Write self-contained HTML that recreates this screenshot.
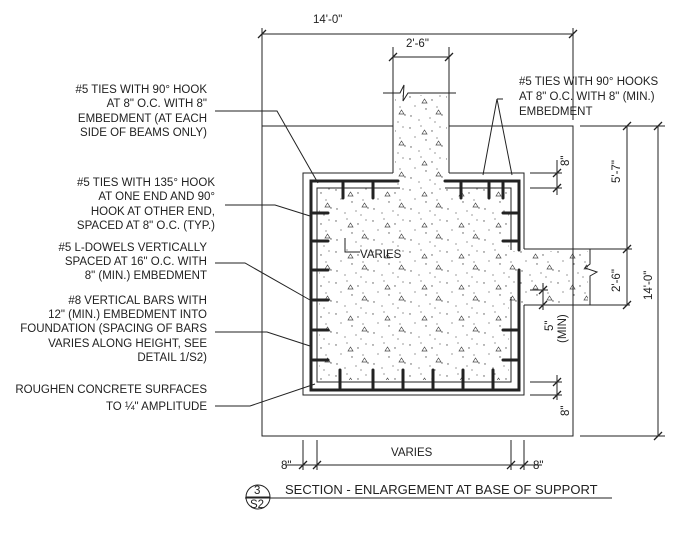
<!DOCTYPE html>
<html><head><meta charset="utf-8"><style>
html,body{margin:0;padding:0;background:#fff;}
svg{display:block;}
text{font-family:"Liberation Sans Narrow","Liberation Sans",sans-serif;font-size:11.5px;fill:#222;}
</style></head><body>
<svg width="682" height="548" viewBox="0 0 682 548" xmlns="http://www.w3.org/2000/svg">
<defs>
<pattern id="conc" width="37" height="31" patternUnits="userSpaceOnUse">
<g fill="#555">
<circle cx="3" cy="4" r="0.7"/><circle cx="14" cy="2" r="0.6"/><circle cx="25" cy="7" r="0.7"/>
<circle cx="33" cy="3" r="0.6"/><circle cx="8" cy="13" r="0.6"/><circle cx="19" cy="16" r="0.7"/>
<circle cx="30" cy="14" r="0.6"/><circle cx="4" cy="23" r="0.7"/><circle cx="12" cy="27" r="0.6"/>
<circle cx="23" cy="25" r="0.6"/><circle cx="35" cy="22" r="0.7"/><circle cx="28" cy="29" r="0.6"/>
</g>
<path d="M15,10l2.5,-4l2.5,4z M29,21l2.5,-4l2.5,4z" fill="none" stroke="#444" stroke-width="0.7"/>
</pattern>
</defs>
<path d="M395,95H447V188H509V251H588V303H509V380H319V188H395Z" fill="url(#conc)"/>
<g stroke="#222" stroke-width="1" fill="none">
<path d="M393,126H262V436H573V126H449"/>
<path d="M393,93V173 M449,93V173 M383,93H400L404,85L403,101L408,93H456"/>
<path d="M393,173H303V395H524V305 M449,173H524V249"/>
<path d="M400,188H317V382H511V297 M445,188H511V250"/>
<path d="M524,249H590 M524,305H590 M590,249V264L585,268L597,272L590,276V305"/>
<path d="M262,34H573 M262,28V126 M573,28V120"/>
<path d="M393,57H449 M393,47V93 M449,47V93"/>
<path d="M580,126H665 M627,126V305 M658,126V436 M590,249H632 M590,305H630 M580,436H665"/>
<path d="M530,173H562 M530,188H562 M557,160V195"/>
<path d="M530,382H562 M530,395H562 M557,375V400"/>
<path d="M543,283V310 M530,290H548"/>
<path d="M286,465H542 M303,440V470 M317,440V470 M511,440V470 M524,440V470"/>
<path d="M215,111H277L318,183 M225,205H275L310,216 M215,263H245L310,300 M215,332H267L310,346 M215,406H250L315,384"/>
<path d="M497,99L483,175 M497,99L512,175 M497,99H503"/>
<path d="M345,238L345,252L360,252"/>
<path d="M245,498H612"/>
<circle cx="258" cy="497" r="12"/>
<path d="M246,497H270"/>
</g>
<g stroke="#222" stroke-width="1.3">
<path d="M258,38L266,30 M569,38L577,30 M389,61L397,53 M445,61L453,53"/>
<path d="M623,130L631,122 M623,253L631,245 M623,309L631,301 M654,130L662,122 M654,440L662,432"/>
<path d="M553,177L561,169 M553,192L561,184 M553,386L561,378 M553,399L561,391 M539,294L547,286 M539,309L547,301"/>
<path d="M299,469L307,461 M313,469L321,461 M507,469L515,461 M520,469L528,461"/>
</g>
<g stroke="#222" stroke-width="3" fill="none" stroke-linecap="round">
<path d="M320,181H311V390H519V290 M519,250V181H445 M320,181H398"/>
<path d="M313,213H328M313,241H328M313,270H328M313,300H328M313,330H328M313,360H328"/>
<path d="M517,213H503M517,241H503M517,330H503M517,360H503"/>
<path d="M340,388V370M373,388V370M403,388V370M433,388V370M463,388V370M493,388V370"/>
<path d="M343,183V198M373,183V198M461,183V198M489,183V198M503,183V198"/>
<path d="M519,300V270"/>
</g>
<g>
<text x="313" y="23">14'-0"</text>
<text x="406" y="47">2'-6"</text>
<text x="207" y="93" text-anchor="end">#5 TIES WITH 90° HOOK</text>
<text x="207" y="107" text-anchor="end">AT 8" O.C. WITH 8"</text>
<text x="207" y="122" text-anchor="end">EMBEDMENT (AT EACH</text>
<text x="207" y="136" text-anchor="end">SIDE OF BEAMS ONLY)</text>
<text x="215" y="186" text-anchor="end">#5 TIES WITH 135° HOOK</text>
<text x="215" y="200" text-anchor="end">AT ONE END AND 90°</text>
<text x="215" y="215" text-anchor="end">HOOK AT OTHER END,</text>
<text x="215" y="229" text-anchor="end">SPACED AT 8" O.C. (TYP.)</text>
<text x="207" y="251" text-anchor="end">#5 L-DOWELS VERTICALLY</text>
<text x="207" y="265" text-anchor="end">SPACED AT 16" O.C. WITH</text>
<text x="207" y="279" text-anchor="end">8" (MIN.) EMBEDMENT</text>
<text x="207" y="304" text-anchor="end">#8 VERTICAL BARS WITH</text>
<text x="207" y="318" text-anchor="end">12" (MIN.) EMBEDMENT INTO</text>
<text x="207" y="332" text-anchor="end">FOUNDATION (SPACING OF BARS</text>
<text x="207" y="347" text-anchor="end">VARIES ALONG HEIGHT, SEE</text>
<text x="207" y="361" text-anchor="end">DETAIL 1/S2)</text>
<text x="207" y="393" text-anchor="end">ROUGHEN CONCRETE SURFACES</text>
<text x="207" y="410" text-anchor="end">TO ¼" AMPLITUDE</text>
<text x="519" y="85">#5 TIES WITH 90° HOOKS</text>
<text x="519" y="100">AT 8" O.C. WITH 8" (MIN.)</text>
<text x="519" y="115">EMBEDMENT</text>
<text x="360" y="258">VARIES</text>
<text x="391" y="456">VARIES</text>
<text x="281" y="469">8"</text>
<text x="533" y="469">8"</text>
<text transform="translate(569,166) rotate(-90)">8"</text>
<text transform="translate(569,416) rotate(-90)">8"</text>
<text transform="translate(620,183) rotate(-90)">5'-7"</text>
<text transform="translate(620,292) rotate(-90)">2'-6"</text>
<text transform="translate(652,300) rotate(-90)">14'-0"</text>
<text transform="translate(553,331) rotate(-90)">5"</text>
<text transform="translate(566,343) rotate(-90)">(MIN)</text>
<text x="254" y="494">3</text>
<text x="250" y="508">S2</text>
<text x="285" y="494" style="font-size:13px">SECTION - ENLARGEMENT AT BASE OF SUPPORT</text>
</g>
</svg>
</body></html>
